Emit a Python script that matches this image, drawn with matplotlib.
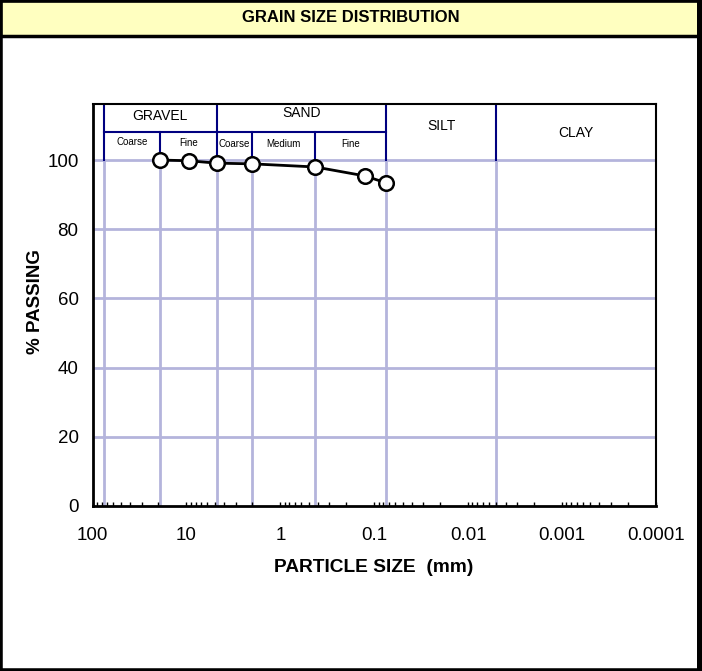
import matplotlib
matplotlib.use('Agg')
import matplotlib.pyplot as plt
from matplotlib.patches import Rectangle

plt.rcParams['font.family'] = ['Liberation Sans', 'DejaVu Sans']

# sieve results
sieve_mm = [19.0, 9.5, 4.75, 2.0, 0.425, 0.125, 0.075]
percent_passing = [100.0, 99.8, 99.1, 98.9, 98.0, 95.4, 93.4]

# soil class boundaries (mm)
boundaries_mm = [76.2, 19.0, 4.75, 2.0, 0.425, 0.075, 0.005]
y_grid = [20, 40, 60, 80, 100]
x_ticks = [100, 10, 1, 0.1, 0.01, 0.001, 0.0001]
x_tick_labels = ['100', '10', '1', '0.1', '0.01', '0.001', '0.0001']
y_ticks = [0, 20, 40, 60, 80, 100]

main_names = ['GRAVEL', 'SAND', 'SILT', 'CLAY']
main_ranges = [(76.2, 4.75), (4.75, 0.075), (0.075, 0.005), (0.005, 0.0001)]
main_label_y = [112.7, 113.6, 109.7, 107.8]
sub_names = ['Coarse', 'Fine', 'Coarse', 'Medium', 'Fine']
sub_ranges = [(76.2, 19.0), (19.0, 4.75), (4.75, 2.0), (2.0, 0.425), (0.425, 0.075)]
sub_label_y = [105.3, 104.8, 104.5, 104.5, 104.5]

W, H = 702, 671
fig = plt.figure(figsize=(W / 100, H / 100), dpi=100)

def fx(px):
    return px / W

def fy(py):
    return 1 - py / H

ax_l, ax_r, ax_t, ax_b = 92.5, 656, 104, 506
ax = fig.add_axes([fx(ax_l), fy(ax_b), fx(ax_r - ax_l), (ax_b - ax_t) / H])
ax.set_xscale('log')
ax.set_xlim(100, 0.0001)
y_top = 116.2
ax.set_ylim(0, y_top)

grid_col = '#b4b4dc'
navy = '#000080'

# horizontal grid
for g in y_grid:
    ax.axhline(g, color=grid_col, lw=2, zorder=1)
# vertical grid in the chart body
for b in boundaries_mm:
    ax.plot([b, b], [0, 100], color=grid_col, lw=2, zorder=1)

# header lines
ax.plot([76.2, 0.075], [108.1, 108.1], color=navy, lw=1.5, zorder=2)
for b in [76.2, 4.75, 0.075, 0.005]:
    ax.plot([b, b], [100, y_top], color=navy, lw=1.5, zorder=2)
for b in [19.0, 2.0, 0.425]:
    ax.plot([b, b], [100, 108.1], color=navy, lw=1.5, zorder=2)

for name, (a, b), yy in zip(main_names, main_ranges, main_label_y):
    ax.text((a * b) ** 0.5, yy, name, ha='center', va='center', fontsize=10)
for name, (a, b), yy in zip(sub_names, sub_ranges, sub_label_y):
    ax.text((a * b) ** 0.5, yy, name, ha='center', va='center', fontsize=7)

# data curve
ax.plot(sieve_mm, percent_passing, color='black', lw=2, marker='o',
        markersize=10.5, markerfacecolor='white', markeredgecolor='black',
        markeredgewidth=1.8, zorder=5, clip_on=False)

ax.set_xticks(x_ticks)
ax.set_xticklabels(x_tick_labels, fontsize=13.5)
ax.set_yticks(y_ticks)
ax.set_yticklabels([str(v) for v in y_ticks], fontsize=13.5)
ax.tick_params(axis='x', which='major', direction='in', length=3, width=1, pad=15)
ax.tick_params(axis='x', which='minor', direction='in', length=3, width=1)
ax.tick_params(axis='y', which='both', length=0, pad=10)
ax.tick_params(axis='x', which='minor', labelbottom=False)

for side in ['left', 'bottom']:
    ax.spines[side].set_linewidth(2)
for side in ['top', 'right']:
    ax.spines[side].set_linewidth(1.5)

fig.text(fx(374), fy(568), 'PARTICLE SIZE  (mm)', ha='center', va='center',
         fontsize=13.8, fontweight='bold')
fig.text(fx(35), fy(302), '% PASSING', ha='center', va='center',
         fontsize=13.5, fontweight='bold', rotation=90)

# title bar
fig.patches.append(Rectangle((0, fy(36)), 1, 36 / H, transform=fig.transFigure,
                             facecolor='#ffffc0', edgecolor='black', lw=2.5, zorder=0))
fig.text(0.5, fy(17), 'GRAIN SIZE DISTRIBUTION', ha='center', va='center',
         fontsize=12, fontweight='bold')

# outer frame
fig.patches.append(Rectangle((0, 0), 1, 1, transform=fig.transFigure,
                             facecolor='none', edgecolor='black', lw=4, zorder=10))
fig.patches.append(Rectangle((fx(697), 0), fx(5), 1, transform=fig.transFigure,
                             facecolor='black', edgecolor='none', zorder=10))

fig.savefig('out.png', dpi=100)
